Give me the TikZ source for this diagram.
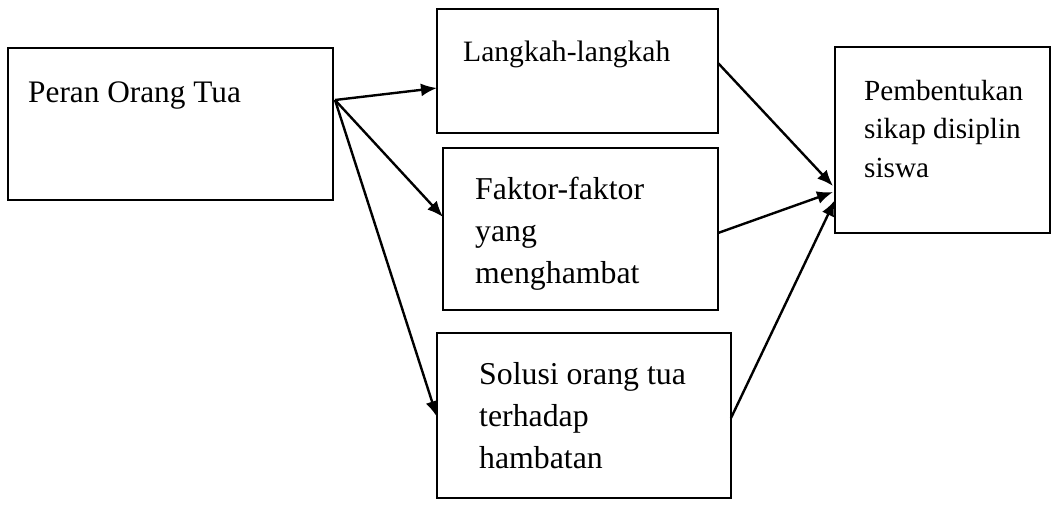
\documentclass[tikz,border=0pt]{standalone}
\usepackage{fontspec}
\setmainfont{Liberation Serif}
\usetikzlibrary{arrows.meta}
\begin{document}
\begin{tikzpicture}[x=1pt,y=-1pt,
  box/.style={draw,line width=2.4pt,inner sep=0pt,outer sep=0pt,anchor=north west},
  lbl/.style={anchor=base west,inner sep=0pt},
  fa/.style={font=\fontsize{31.3}{36}\selectfont},
  fb/.style={font=\fontsize{29.6}{36}\selectfont},
  fc/.style={font=\fontsize{31.8}{36}\selectfont},
  fd/.style={font=\fontsize{29.2}{36}\selectfont},
  arr/.style={line width=2.4pt,-{Latex[length=16pt,width=13pt]}}]
\useasboundingbox (0,0) rectangle (1051,504);
% boxes
\node[box,minimum width=325pt,minimum height=152pt] (b1) at (8,48) {};
\node[box,minimum width=281pt,minimum height=124pt] (b2) at (437,9) {};
\node[box,minimum width=275pt,minimum height=162pt] (b3) at (443,148) {};
\node[box,minimum width=294pt,minimum height=165pt] (b4) at (437,333) {};
\node[box,minimum width=215pt,minimum height=186pt] (b5) at (835,47) {};
% texts
\node[lbl,fa] (t1) at (28,102) {Peran Orang Tua};
\node[lbl,fb] (t2) at (463,61) {Langkah-langkah};
\node[lbl,fc] (t3a) at (475,199) {Faktor-faktor};
\node[lbl,fc] (t3b) at (475,241) {yang};
\node[lbl,fc] (t3c) at (475,283) {menghambat};
\node[lbl,fc] (t4a) at (479,384) {Solusi orang tua};
\node[lbl,fc] (t4b) at (479,426) {terhadap};
\node[lbl,fc] (t4c) at (479,468) {hambatan};
\node[lbl,fd] (t5a) at (864,100) {Pembentukan};
\node[lbl,fd] (t5b) at (864,138) {sikap disiplin};
\node[lbl,fd] (t5c) at (864,177) {siswa};
% connector points
\coordinate (src) at (335,100);
\coordinate (in2) at (437,88);
\coordinate (in3) at (443,217);
\coordinate (in4) at (437,417);
\coordinate (out2) at (718,63);
\coordinate (out3) at (718,233);
\coordinate (out4) at (731,418);
\coordinate (in5a) at (833,186);
\coordinate (in5b) at (833,192);
\coordinate (in5c) at (835,200);
% arrows
\draw[arr] (src) -- (in2);
\draw[arr] (src) -- (in3);
\draw[arr] (src) -- (in4);
\draw[arr] (out2) -- (in5a);
\draw[arr] (out3) -- (in5b);
\draw[arr] (out4) -- (in5c);
\end{tikzpicture}
\end{document}
